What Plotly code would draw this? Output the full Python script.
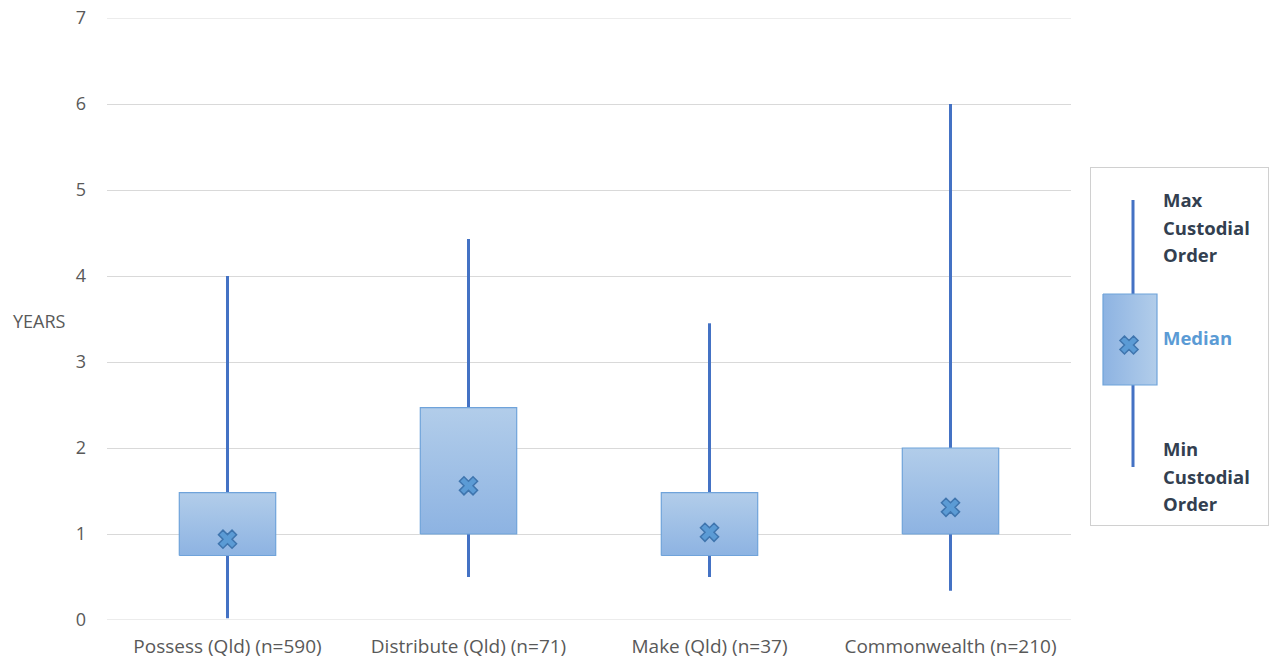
import plotly.graph_objects as go

# Sentence length summary (years) by offence group
categories = ["Possess (Qld) (n=590)", "Distribute (Qld) (n=71)",
              "Make (Qld) (n=37)", "Commonwealth (n=210)"]
min_years = [0.02, 0.5, 0.5, 0.34]
box_low = [0.75, 1.0, 0.75, 1.0]
box_high = [1.48, 2.47, 1.48, 2.0]
max_years = [4.0, 4.43, 3.45, 6.0]
median_years = [0.94, 1.56, 1.02, 1.31]
y_ticks = [0, 1, 2, 3, 4, 5, 6, 7]

WHISKER = "#4472C4"
BOX_EDGE = "#6FA3DA"
BOX_GRAD_V = [[0, "#8DB3E2"], [1, "#B2CDEA"]]
BOX_GRAD_H = [[0, "#8DB3E2"], [1, "#B2CDEA"]]
MED_FILL = "#5B9BD5"
MED_EDGE = "#3F75AE"
TXT = "#595959"
KEY_TXT = "#333F50"
GRID = "#D9D9D9"
FONT = "Open Sans"

fig = go.Figure()
half = 0.2
xs = list(range(len(categories)))

# whiskers (min to max)
for i in xs:
    fig.add_trace(go.Scatter(x=[i, i], y=[min_years[i], max_years[i]], mode="lines",
                             line=dict(color=WHISKER, width=3), hoverinfo="skip",
                             showlegend=False, xaxis="x", yaxis="y"))
# boxes with vertical gradient
for i in xs:
    fig.add_trace(go.Scatter(
        x=[i - half, i + half, i + half, i - half, i - half],
        y=[box_low[i], box_low[i], box_high[i], box_high[i], box_low[i]],
        mode="lines", fill="toself",
        fillgradient=dict(type="vertical", colorscale=BOX_GRAD_V),
        line=dict(color=BOX_EDGE, width=1.2), hoverinfo="skip", showlegend=False,
        xaxis="x", yaxis="y"))
# median markers
fig.add_trace(go.Scatter(x=xs, y=median_years, mode="markers",
                         marker=dict(symbol="x", size=16, color=MED_FILL,
                                     line=dict(color=MED_EDGE, width=1.5)),
                         showlegend=False, xaxis="x", yaxis="y"))

# key panel on its own axes (pixel-like units, y downward)
fig.add_trace(go.Scatter(x=[43, 43], y=[33, 300], mode="lines",
                         line=dict(color=WHISKER, width=3), hoverinfo="skip",
                         showlegend=False, xaxis="x2", yaxis="y2"))
fig.add_trace(go.Scatter(x=[13, 67, 67, 13, 13], y=[127, 127, 218, 218, 127],
                         mode="lines", fill="toself",
                         fillgradient=dict(type="horizontal", colorscale=BOX_GRAD_H),
                         line=dict(color=BOX_EDGE, width=1.2), hoverinfo="skip",
                         showlegend=False, xaxis="x2", yaxis="y2"))
fig.add_trace(go.Scatter(x=[39], y=[178], mode="markers",
                         marker=dict(symbol="x", size=16, color=MED_FILL,
                                     line=dict(color=MED_EDGE, width=1.5)),
                         showlegend=False, xaxis="x2", yaxis="y2"))

ml, mr, mt, mb = 107, 5, 18, 43
W, H = 1274, 663
pw = W - ml - mr
ph = H - mt - mb

def px_x(p):
    return (p - ml) / pw

def px_y(p):
    return (H - mb - p) / ph

key_lines = [("Max", 32, KEY_TXT), ("Custodial", 60, KEY_TXT), ("Order", 87, KEY_TXT),
             ("Median", 170, MED_FILL),
             ("Min", 281, KEY_TXT), ("Custodial", 309, KEY_TXT), ("Order", 336, KEY_TXT)]

annotations = [
    dict(text="YEARS", xref="paper", yref="paper", x=px_x(11), y=px_y(321),
         xanchor="left", yanchor="middle", showarrow=False,
         font=dict(size=18, color=TXT)),
]
for txt, yy, col in key_lines:
    annotations.append(dict(text=txt, xref="x2", yref="y2", x=71, y=yy,
                            xanchor="left", yanchor="middle", showarrow=False,
                            font=dict(size=18.5, color=col, family=FONT, weight="bold")))

# gridlines at the range ends (0 and 7)
edge_lines = [dict(type="line", xref="x domain", yref="y", x0=0, x1=1, y0=v, y1=v,
                   line=dict(color=GRID, width=1), layer="below")
              for v in (y_ticks[0], y_ticks[-1])]

fig.update_layout(
    width=W, height=H,
    margin=dict(l=ml, r=mr, t=mt, b=mb),
    paper_bgcolor="white", plot_bgcolor="white",
    font=dict(family=FONT, size=16, color=TXT),
    xaxis=dict(domain=[0, px_x(1071)], range=[-0.5, 3.5], tickvals=xs,
               ticktext=categories, showgrid=False, zeroline=False, showline=False,
               ticks="", ticklabelstandoff=13, tickfont=dict(size=19, color=TXT),
               automargin=False, fixedrange=True),
    yaxis=dict(domain=[0, 1], range=[0, 7], tickvals=y_ticks, showgrid=True,
               gridcolor=GRID, gridwidth=1, zeroline=False, showline=False,
               ticks="", ticklabelstandoff=20, tickfont=dict(size=18, color=TXT),
               automargin=False, fixedrange=True),
    xaxis2=dict(domain=[px_x(1090), px_x(1269)], range=[0, 179], visible=False,
                anchor="y2", automargin=False, fixedrange=True),
    yaxis2=dict(domain=[px_y(526), px_y(167)], range=[359, 0], visible=False,
                anchor="x2", automargin=False, fixedrange=True),
    shapes=edge_lines + [dict(type="rect", xref="x2", yref="y2", x0=0, x1=179, y0=0, y1=359,
                              line=dict(color="#D0D0D0", width=2),
                              fillcolor="rgba(0,0,0,0)", layer="below")],
    annotations=annotations,
)

fig.write_html("out.html")
